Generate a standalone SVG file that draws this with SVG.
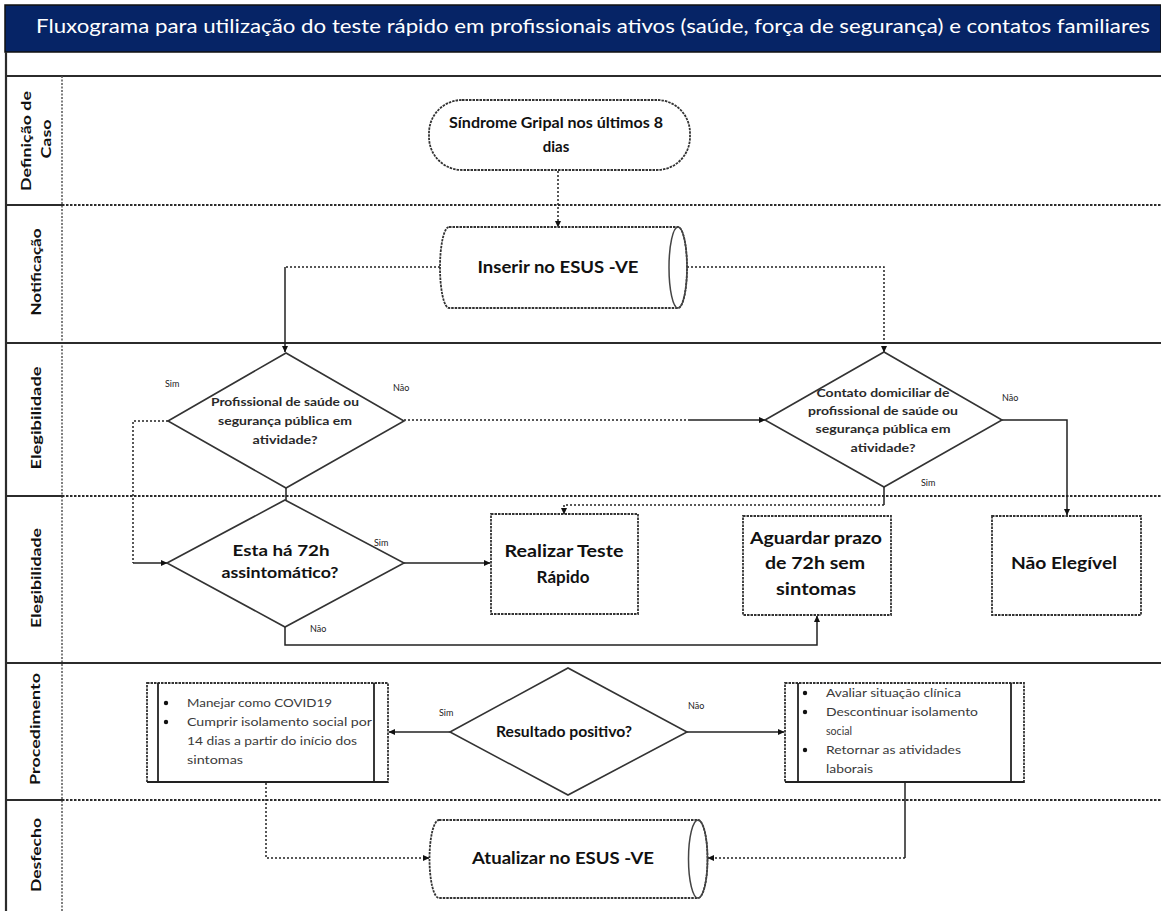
<svg xmlns="http://www.w3.org/2000/svg" width="1161" height="911" viewBox="0 0 1161 911">
<defs>
<style>
.lane{stroke:#2b2b2b;stroke-width:2.2;fill:none}
.lanedot{stroke:#2b2b2b;stroke-width:2;stroke-dasharray:2.5,1.5;fill:none}
.vdot{stroke:#555;stroke-width:1.5;stroke-dasharray:2,1.5;fill:none}
.lbl{font-family:Lato,'Open Sans',sans-serif;font-weight:bold;font-size:14px;fill:#111;text-anchor:middle}
.node{fill:#fff;stroke:#333;stroke-width:1.6}
.dotb{fill:#fff;stroke:#333;stroke-width:1.8;stroke-dasharray:2.5,1}
.big{font-family:Lato,'Open Sans',sans-serif;font-weight:bold;font-size:17px;fill:#111;text-anchor:middle}
.mid{font-family:Lato,'Open Sans',sans-serif;font-weight:bold;font-size:15px;fill:#111;text-anchor:middle}
.sm{font-family:Lato,'Open Sans',sans-serif;font-weight:bold;font-size:11px;fill:#2a2a2a;text-anchor:middle}
.li{font-family:Lato,'Open Sans',sans-serif;font-size:11.5px;fill:#3a3a3a}
.yn{font-family:Lato,'Open Sans',sans-serif;font-size:9px;fill:#222}
.c{stroke:#222;stroke-width:1.5;fill:none}
.cd{stroke:#222;stroke-width:1.5;stroke-dasharray:2,2;fill:none}
</style>
<marker id="ah" markerWidth="7" markerHeight="7" refX="6" refY="3.5" orient="auto" markerUnits="userSpaceOnUse">
<path d="M0,0.5 L6.5,3.5 L0,6.5 z" fill="#111"/>
</marker>
</defs>
<rect width="1161" height="911" fill="#fff"/>
<g id="title">
<rect x="5" y="5" width="1156" height="47" fill="#062466" stroke="#111" stroke-width="1.5"/>
<text x="36" y="33" font-family="Lato,'Open Sans',sans-serif" font-size="20" fill="#fff" textLength="1114" lengthAdjust="spacingAndGlyphs">Fluxograma para utilização do teste rápido em profissionais ativos (saúde, força de segurança) e contatos familiares</text>
</g>
<g id="lanes">
<line class="lane" x1="5" y1="76" x2="1161" y2="76" stroke="#555"/>
<line class="lane" x1="6" y1="52" x2="6" y2="911"/>
<line class="vdot" x1="62" y1="76" x2="62" y2="911"/>
<line class="lane" x1="6" y1="205" x2="62" y2="205"/>
<line class="lanedot" x1="62" y1="205" x2="1161" y2="205"/>
<line class="lane" x1="6" y1="343" x2="1161" y2="343"/>
<line class="lane" x1="6" y1="496" x2="62" y2="496"/>
<line class="lanedot" x1="62" y1="496" x2="1161" y2="496"/>
<line class="lane" x1="6" y1="663" x2="1161" y2="663"/>
<line class="lane" x1="6" y1="800" x2="62" y2="800"/>
<line class="lanedot" x1="62" y1="800" x2="1161" y2="800"/>
<text class="lbl" transform="translate(31,141) rotate(-90)" textLength="100" lengthAdjust="spacingAndGlyphs">Definição de</text>
<text class="lbl" transform="translate(51,139) rotate(-90)" textLength="39" lengthAdjust="spacingAndGlyphs">Caso</text>
<text class="lbl" transform="translate(41,272) rotate(-90)" textLength="87" lengthAdjust="spacingAndGlyphs">Notificação</text>
<text class="lbl" transform="translate(41,418) rotate(-90)" textLength="103" lengthAdjust="spacingAndGlyphs">Elegibilidade</text>
<text class="lbl" transform="translate(41,578) rotate(-90)" textLength="100" lengthAdjust="spacingAndGlyphs">Elegibilidade</text>
<text class="lbl" transform="translate(40,729) rotate(-90)" textLength="112" lengthAdjust="spacingAndGlyphs">Procedimento</text>
<text class="lbl" transform="translate(41,855) rotate(-90)" textLength="74" lengthAdjust="spacingAndGlyphs">Desfecho</text>
</g>
<g id="connectors">
<line class="cd" x1="558" y1="171" x2="558" y2="227" marker-end="url(#ah)"/>
<path class="cd" d="M440,267 H285"/>
<path class="c" d="M285,267 V352" marker-end="url(#ah)"/>
<path class="cd" d="M687,267 H884 V352" marker-end="url(#ah)"/>
<path class="cd" d="M404,420 H690"/>
<path class="c" d="M690,420 H765" marker-end="url(#ah)"/>
<line class="c" x1="286" y1="488" x2="286" y2="500"/>
<path class="cd" d="M168,421 H133 V563"/>
<path class="c" d="M133,563 H167" marker-end="url(#ah)"/>
<path class="c" d="M1002,420 H1067 V515" marker-end="url(#ah)"/>
<path class="c" d="M884,487 V505"/>
<path class="cd" d="M884,505 H564 V514" marker-end="url(#ah)"/>
<path class="c" d="M404,563 H490" marker-end="url(#ah)"/>
<path class="c" d="M285,627 V645 H817 V616" marker-end="url(#ah)"/>
<path class="c" d="M450,732 H389" marker-end="url(#ah)"/>
<path class="c" d="M687,732 H784" marker-end="url(#ah)"/>
<path class="cd" d="M266,783 V858 H429" marker-end="url(#ah)"/>
<path class="c" d="M905,783 V858"/>
<path class="cd" d="M905,858 H708" marker-end="url(#ah)"/>
<text class="yn" x="165" y="387">Sim</text>
<text class="yn" x="393" y="391">Não</text>
<text class="yn" x="1002" y="401">Não</text>
<text class="yn" x="921" y="486">Sim</text>
<text class="yn" x="374" y="546">Sim</text>
<text class="yn" x="310" y="632">Não</text>
<text class="yn" x="439" y="716">Sim</text>
<text class="yn" x="688" y="709">Não</text>
</g>
<g id="n-sindrome">
<rect class="dotb" x="429" y="100" width="261" height="70" rx="33" ry="33"/>
<text class="mid" x="556" y="128" textLength="214" lengthAdjust="spacingAndGlyphs">Síndrome Gripal nos últimos 8</text>
<text class="mid" x="556" y="152">dias</text>
</g>
<g id="n-inserir">
<path class="dotb" d="M449,227 H678 A9,40.5 0 0 1 678,308 H449 A9,40.5 0 0 1 449,227 Z"/>
<ellipse cx="678" cy="267.5" rx="9" ry="40.5" fill="none" stroke="#444" stroke-width="1.5"/>
<text class="big" x="558" y="273" textLength="161" lengthAdjust="spacingAndGlyphs">Inserir no ESUS -VE</text>
</g>
<g id="n-profissional">
<polygon class="node" points="168,421 286,353 404,421 286,488"/>
<text class="sm" x="285" y="406" textLength="148" lengthAdjust="spacingAndGlyphs">Profissional de saúde ou</text>
<text class="sm" x="285" y="425" textLength="134" lengthAdjust="spacingAndGlyphs">segurança pública em</text>
<text class="sm" x="285" y="444" textLength="65" lengthAdjust="spacingAndGlyphs">atividade?</text>
</g>
<g id="n-contato">
<polygon class="node" points="765,420 884,352 1002,420 884,487"/>
<text class="sm" x="883" y="397" textLength="133" lengthAdjust="spacingAndGlyphs">Contato domiciliar de</text>
<text class="sm" x="883" y="415" textLength="150" lengthAdjust="spacingAndGlyphs">profissional de saúde ou</text>
<text class="sm" x="883" y="433" textLength="135" lengthAdjust="spacingAndGlyphs">segurança pública em</text>
<text class="sm" x="883" y="452" textLength="65" lengthAdjust="spacingAndGlyphs">atividade?</text>
</g>
<g id="n-esta">
<polygon class="node" points="167,563 285,500 404,563 285,627"/>
<text class="mid" x="281" y="556" textLength="97" lengthAdjust="spacingAndGlyphs">Esta há 72h</text>
<text class="mid" x="280" y="578" textLength="117" lengthAdjust="spacingAndGlyphs">assintomático?</text>
</g>
<g id="n-realizar">
<rect class="dotb" x="491" y="514" width="147" height="100"/>
<text class="big" x="564" y="557" textLength="119" lengthAdjust="spacingAndGlyphs">Realizar Teste</text>
<text class="big" x="563" y="583">Rápido</text>
</g>
<g id="n-aguardar">
<rect class="dotb" x="743" y="516" width="148" height="99"/>
<text class="big" x="816" y="544" textLength="132" lengthAdjust="spacingAndGlyphs">Aguardar prazo</text>
<text class="big" x="815" y="569" textLength="100" lengthAdjust="spacingAndGlyphs">de 72h sem</text>
<text class="big" x="816" y="595" textLength="80" lengthAdjust="spacingAndGlyphs">sintomas</text>
</g>
<g id="n-naoelegivel">
<rect class="dotb" x="992" y="516" width="149" height="99"/>
<text class="big" x="1064" y="569" textLength="106" lengthAdjust="spacingAndGlyphs">Não Elegível</text>
</g>
<g id="n-resultado">
<polygon class="node" points="450,732 568,668 687,732 568,795"/>
<text class="mid" x="564" y="737" textLength="136" lengthAdjust="spacingAndGlyphs">Resultado positivo?</text>
</g>
<g id="n-manejar">
<rect class="dotb" x="147" y="683" width="241" height="99"/>
<line x1="158" y1="683" x2="158" y2="782" stroke="#222" stroke-width="1.8"/>
<line x1="374" y1="683" x2="374" y2="782" stroke="#222" stroke-width="1.8"/>
<line x1="147" y1="782" x2="388" y2="782" stroke="#222" stroke-width="1.8"/>
<circle cx="166" cy="703" r="2.2" fill="#111"/>
<circle cx="166" cy="722" r="2.2" fill="#111"/>
<text class="li" x="187" y="707" textLength="145" lengthAdjust="spacingAndGlyphs">Manejar como COVID19</text>
<text class="li" x="187" y="726" textLength="185" lengthAdjust="spacingAndGlyphs">Cumprir isolamento social por</text>
<text class="li" x="187" y="745" textLength="170" lengthAdjust="spacingAndGlyphs">14 dias a partir do início dos</text>
<text class="li" x="187" y="764" textLength="56" lengthAdjust="spacingAndGlyphs">sintomas</text>
</g>
<g id="n-avaliar">
<rect class="dotb" x="785" y="683" width="239" height="99"/>
<line x1="798" y1="683" x2="798" y2="782" stroke="#222" stroke-width="1.8"/>
<line x1="1011" y1="683" x2="1011" y2="782" stroke="#222" stroke-width="1.8"/>
<line x1="785" y1="782" x2="1024" y2="782" stroke="#222" stroke-width="1.8"/>
<circle cx="805" cy="693" r="2.2" fill="#111"/>
<circle cx="805" cy="712" r="2.2" fill="#111"/>
<circle cx="805" cy="750" r="2.2" fill="#111"/>
<text class="li" x="826" y="697" textLength="135" lengthAdjust="spacingAndGlyphs">Avaliar situação clínica</text>
<text class="li" x="826" y="716" textLength="152" lengthAdjust="spacingAndGlyphs">Descontinuar isolamento</text>
<text class="li" x="826" y="735" textLength="26" lengthAdjust="spacingAndGlyphs">social</text>
<text class="li" x="826" y="754" textLength="135" lengthAdjust="spacingAndGlyphs">Retornar as atividades</text>
<text class="li" x="826" y="773" textLength="47" lengthAdjust="spacingAndGlyphs">laborais</text>
</g>
<g id="n-atualizar">
<path class="dotb" d="M439,820 H698 A9.5,39 0 0 1 698,898 H439 A9.5,39 0 0 1 439,820 Z"/>
<ellipse cx="698" cy="859" rx="9.5" ry="39" fill="none" stroke="#444" stroke-width="1.5"/>
<text class="big" x="563" y="864" textLength="182" lengthAdjust="spacingAndGlyphs">Atualizar no ESUS -VE</text>
</g>
</svg>
